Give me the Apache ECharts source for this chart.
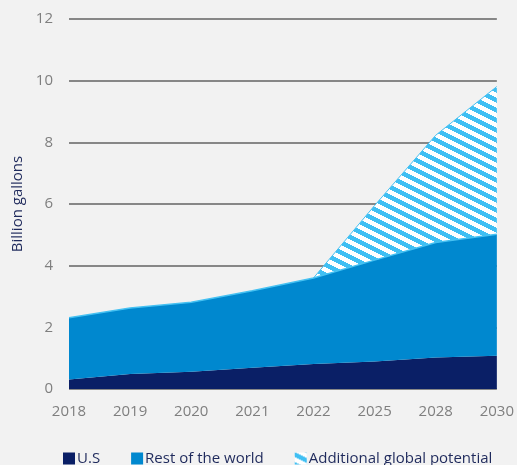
<!DOCTYPE html>
<html>
<head>
<meta charset="utf-8">
<script src="https://cdn.jsdelivr.net/npm/echarts@6/dist/echarts.min.js"></script>
<style>
  html, body { margin: 0; padding: 0; background: #f2f2f2; }
  #chart { width: 517px; height: 465px; }
</style>
</head>
<body>
<div id="chart"></div>
<script>
// Biofuel volumes, billion gallons
var years = ['2018', '2019', '2020', '2021', '2022', '2025', '2028', '2030'];
var usVolume = [0.31, 0.49, 0.56, 0.69, 0.81, 0.89, 1.02, 1.08];
var restOfWorld = [2.0, 2.14, 2.25, 2.5, 2.79, 3.29, 3.73, 3.94];
var additionalPotential = ['-', '-', '-', '-', 0, 1.77, 3.48, 4.79];
var yTicks = [0, 2, 4, 6, 8, 10, 12];

// Diagonal hatch tile for the "additional potential" band
function makeHatch() {
  var w = 20, h = 10;
  var c = document.createElement('canvas');
  c.width = w; c.height = h;
  var ctx = c.getContext('2d');
  ctx.fillStyle = '#ffffff';
  ctx.fillRect(0, 0, w, h);
  ctx.fillStyle = '#3fbff3';
  for (var x = 0; x < w; x++) {
    for (var y = 0; y < h; y++) {
      var k = ((y - Math.floor(x / 2)) % h + h) % h;
      if (k < 5) ctx.fillRect(x, y, 1, 1);
    }
  }
  return c;
}

var chart = echarts.init(document.getElementById('chart'), null, { renderer: 'canvas' });
var textFont = '"Open Sans", sans-serif';

chart.setOption({
  backgroundColor: '#f2f2f2',
  animation: false,
  grid: { left: 69, right: 18, top: 19, bottom: 76 },
  legend: {
    left: 58,
    top: 446,
    itemWidth: 12,
    itemHeight: 12,
    itemGap: 31,
    icon: 'rect',
    textStyle: { color: '#1f2a5c', fontSize: 15, fontFamily: textFont, padding: [0, 0, 0, -3] },
    data: ['U.S', 'Rest of the world', 'Additional global potential']
  },
  xAxis: {
    type: 'category',
    data: years,
    boundaryGap: false,
    axisLine: { show: false },
    axisTick: { show: false },
    axisLabel: { color: '#7f7f7f', fontSize: 15, fontFamily: textFont, margin: 15 }
  },
  yAxis: {
    type: 'value',
    min: yTicks[0],
    max: yTicks[yTicks.length - 1],
    interval: 2,
    name: 'Billion gallons',
    nameLocation: 'middle',
    nameGap: 44,
    nameTextStyle: { color: '#1f2a5c', fontSize: 15, fontFamily: textFont },
    axisLine: { show: false },
    axisTick: { show: false },
    axisLabel: { color: '#7f7f7f', fontSize: 15, fontFamily: textFont, margin: 16 },
    splitLine: { lineStyle: { color: '#878787', width: 2 } }
  },
  series: [
    {
      name: 'U.S',
      type: 'line',
      stack: 'total',
      data: usVolume,
      symbol: 'none',
      lineStyle: { width: 0 },
      itemStyle: { color: '#0a1f66' },
      areaStyle: { color: '#0a1f66', opacity: 1 }
    },
    {
      name: 'Rest of the world',
      type: 'line',
      stack: 'total',
      data: restOfWorld,
      symbol: 'none',
      lineStyle: { width: 1.5, color: '#45c1f2' },
      itemStyle: { color: '#0088cf' },
      areaStyle: { color: '#0088cf', opacity: 1 }
    },
    {
      name: 'Additional global potential',
      type: 'line',
      stack: 'total',
      data: additionalPotential,
      symbol: 'none',
      lineStyle: { width: 1, color: '#45c1f2' },
      itemStyle: { color: { image: makeHatch(), repeat: 'repeat' } },
      areaStyle: { color: { image: makeHatch(), repeat: 'repeat' }, opacity: 1 }
    }
  ]
});
</script>
</body>
</html>
